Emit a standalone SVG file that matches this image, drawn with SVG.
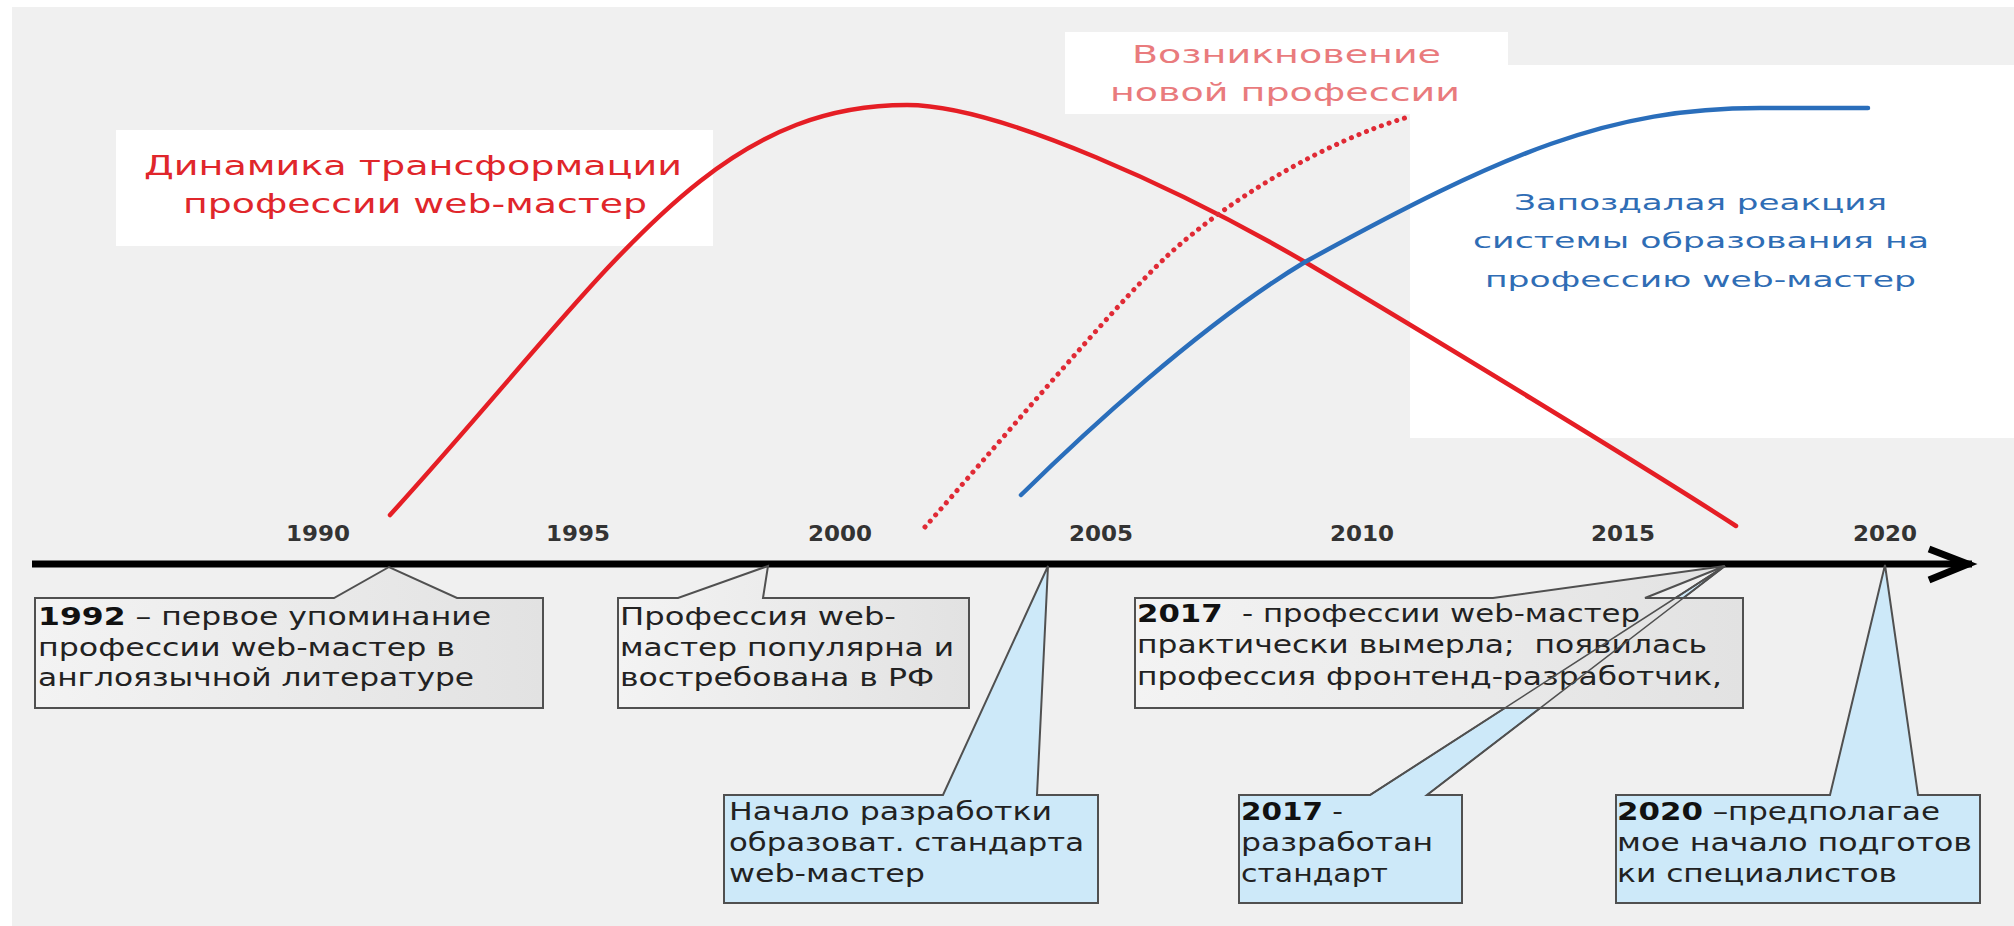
<svg xmlns="http://www.w3.org/2000/svg" width="2014" height="926" viewBox="0 0 2014 926">
<defs>
  <linearGradient id="gg" x1="0" y1="0" x2="1" y2="0">
    <stop offset="0" stop-color="#f3f3f3"/>
    <stop offset="1" stop-color="#e2e2e2"/>
  </linearGradient>
  <style>
    .lbl{font-family:"DejaVu Sans","Liberation Sans",sans-serif}
    .yr{font-family:"DejaVu Sans","Liberation Sans",sans-serif;font-weight:bold;font-size:21px;fill:#333333}
    .ct{font-family:"DejaVu Sans","Liberation Sans",sans-serif;font-size:24px;fill:#222222}
    .b{font-weight:bold;fill:#111111}
    .gray{fill:url(#gg);stroke:#505050;stroke-width:2}
    .blue{fill:#cde9f9;stroke:#505050;stroke-width:2}
    .ptr{fill:none;stroke:#505050;stroke-width:1.5}
    .curve{fill:none;stroke-linecap:round}
  </style>
</defs>

<rect x="0" y="0" width="2014" height="926" fill="#ffffff"/>
<rect x="12" y="7" width="2002" height="919" fill="#f0f0f0"/>

<g id="title-edu">
  <rect x="1410" y="65" width="604" height="373" fill="#ffffff"/>
  <text class="lbl" x="1514" y="210" font-size="22" fill="#2f6db5" textLength="373" lengthAdjust="spacingAndGlyphs">Запоздалая реакция</text>
  <text class="lbl" x="1473" y="248" font-size="22" fill="#2f6db5" textLength="456" lengthAdjust="spacingAndGlyphs">системы образования на</text>
  <text class="lbl" x="1485" y="287" font-size="22" fill="#2f6db5" textLength="431" lengthAdjust="spacingAndGlyphs">профессию web-мастер</text>
</g>

<g id="title-new">
  <rect x="1065" y="32" width="443" height="82" fill="#ffffff"/>
  <text class="lbl" x="1132" y="63" font-size="25" fill="#e97b7d" textLength="309" lengthAdjust="spacingAndGlyphs">Возникновение</text>
  <text class="lbl" x="1110" y="101" font-size="25" fill="#e97b7d" textLength="350" lengthAdjust="spacingAndGlyphs">новой профессии</text>
</g>

<g id="title-transform">
  <rect x="116" y="130" width="597" height="116" fill="#ffffff"/>
  <text class="lbl" x="144" y="175" font-size="27" fill="#e0262b" textLength="538" lengthAdjust="spacingAndGlyphs">Динамика трансформации</text>
  <text class="lbl" x="183" y="213" font-size="27" fill="#e0262b" textLength="464" lengthAdjust="spacingAndGlyphs">профессии web-мастер</text>
</g>

<g id="curves">
  <path id="curve-webmaster" class="curve" stroke="#e51e25" stroke-width="4.5"
        d="M390,515 C610,273 707,105 907,105 C1000,105 1185,192 1305,262 C1420,330 1650,470 1736,526"/>
  <path id="curve-new" class="curve" stroke="#e02a35" stroke-width="5" stroke-dasharray="0.1 8"
        d="M925,527 C990,454 1110,310 1166,257 C1230,197 1330,140 1405,118"/>
  <path id="curve-edu" class="curve" stroke="#2a6ebb" stroke-width="4.5"
        d="M1021,495 C1080,437 1200,325 1305,262 C1505,152 1610,108 1760,108 L1868,108"/>
</g>

<g id="axis">
  <line x1="32" y1="564" x2="1972" y2="564" stroke="#000000" stroke-width="7"/>
  <polyline points="1929,549 1968,564 1929,580" fill="none" stroke="#000000" stroke-width="7" stroke-linejoin="miter"/>
  <text class="yr" x="286" y="541" textLength="64" lengthAdjust="spacingAndGlyphs">1990</text>
  <text class="yr" x="546" y="541" textLength="64" lengthAdjust="spacingAndGlyphs">1995</text>
  <text class="yr" x="808" y="541" textLength="64" lengthAdjust="spacingAndGlyphs">2000</text>
  <text class="yr" x="1069" y="541" textLength="64" lengthAdjust="spacingAndGlyphs">2005</text>
  <text class="yr" x="1330" y="541" textLength="64" lengthAdjust="spacingAndGlyphs">2010</text>
  <text class="yr" x="1591" y="541" textLength="64" lengthAdjust="spacingAndGlyphs">2015</text>
  <text class="yr" x="1853" y="541" textLength="64" lengthAdjust="spacingAndGlyphs">2020</text>
</g>

<g id="callout-1992">
  <path class="gray" d="M35,598 H334 L389,567 L457,598 H543 V708 H35 Z"/>
  <text class="ct" x="38" y="625" textLength="453" lengthAdjust="spacingAndGlyphs"><tspan class="b">1992</tspan> – первое упоминание</text>
  <text class="ct" x="38" y="656" textLength="417" lengthAdjust="spacingAndGlyphs">профессии web-мастер в</text>
  <text class="ct" x="38" y="686" textLength="436" lengthAdjust="spacingAndGlyphs">англоязычной литературе</text>
</g>

<g id="callout-2000">
  <path class="gray" d="M618,598 H678 L768,566 L763,598 H969 V708 H618 Z"/>
  <text class="ct" x="620" y="625" textLength="276" lengthAdjust="spacingAndGlyphs">Профессия web-</text>
  <text class="ct" x="620" y="656" textLength="334" lengthAdjust="spacingAndGlyphs">мастер популярна и</text>
  <text class="ct" x="620" y="686" textLength="314" lengthAdjust="spacingAndGlyphs">востребована в РФ</text>
</g>

<g id="callout-standard-start">
  <path class="blue" d="M724,795 H943 L1048,566 L1037,795 H1098 V903 H724 Z"/>
  <text class="ct" x="729" y="820" textLength="323" lengthAdjust="spacingAndGlyphs">Начало разработки</text>
  <text class="ct" x="729" y="851" textLength="355" lengthAdjust="spacingAndGlyphs">образоват. стандарта</text>
  <text class="ct" x="729" y="882" textLength="196" lengthAdjust="spacingAndGlyphs">web-мастер</text>
</g>

<g id="callout-2017-standard">
  <path class="blue" d="M1239,795 H1370 L1725,566 L1427,795 H1462 V903 H1239 Z"/>
  <text class="ct" x="1241" y="820" textLength="102" lengthAdjust="spacingAndGlyphs"><tspan class="b">2017</tspan> -</text>
  <text class="ct" x="1241" y="851" textLength="192" lengthAdjust="spacingAndGlyphs">разработан</text>
  <text class="ct" x="1241" y="882" textLength="147" lengthAdjust="spacingAndGlyphs">стандарт</text>
</g>

<g id="callout-2017-extinct">
  <path class="gray" d="M1135,598 H1493 L1725,566 L1645,598 H1743 V708 H1135 Z"/>
  <text class="ct" x="1137" y="622" textLength="503" lengthAdjust="spacingAndGlyphs"><tspan class="b">2017</tspan>&#160; - профессии web-мастер</text>
  <text class="ct" x="1137" y="653" textLength="570" lengthAdjust="spacingAndGlyphs">практически вымерла;&#160; появилась</text>
  <text class="ct" x="1137" y="685" textLength="585" lengthAdjust="spacingAndGlyphs">профессия фронтенд-разработчик,</text>
  <path class="ptr" d="M1370,795 L1725,566 L1427,795"/>
</g>

<g id="callout-2020">
  <path class="blue" d="M1616,795 H1830 L1885,565 L1918,795 H1980 V903 H1616 Z"/>
  <text class="ct" x="1617" y="820" textLength="323" lengthAdjust="spacingAndGlyphs"><tspan class="b">2020</tspan> –предполагае</text>
  <text class="ct" x="1617" y="851" textLength="355" lengthAdjust="spacingAndGlyphs">мое начало подготов</text>
  <text class="ct" x="1617" y="882" textLength="280" lengthAdjust="spacingAndGlyphs">ки специалистов</text>
</g>
</svg>
